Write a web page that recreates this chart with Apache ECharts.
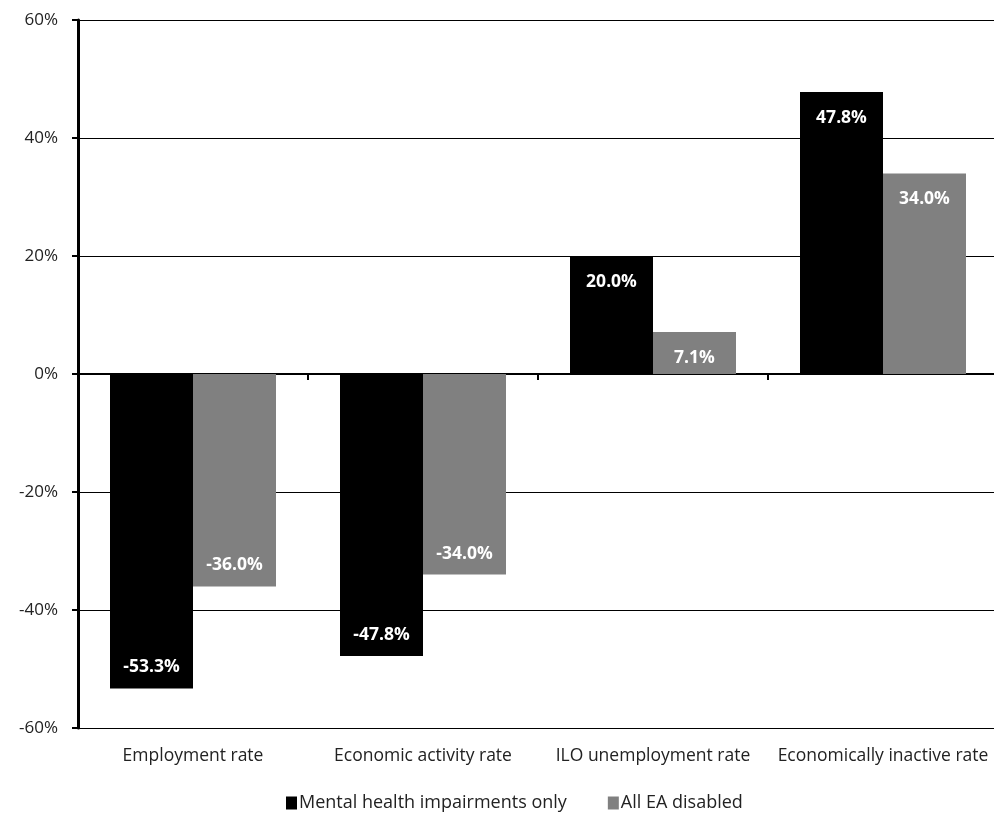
<!DOCTYPE html>
<html>
<head>
<meta charset="utf-8">
<title>Employment measures</title>
<script src="https://cdn.jsdelivr.net/npm/echarts@6/dist/echarts.min.js"></script>
<style>
  html, body { margin: 0; padding: 0; background: #fff; overflow: hidden; }
  /* plot area runs a few pixels past the right edge of the window */
  #chart { width: 1000px; height: 814px; }
</style>
</head>
<body>
<div id="chart"></div>
<script>
// Categories and values (percent)
const categories = ['Employment rate', 'Economic activity rate', 'ILO unemployment rate', 'Economically inactive rate'];
const mentalHealth = [-53.3, -47.8, 20.0, 47.8];
const allEADisabled = [-36.0, -34.0, 7.1, 34.0];
const seriesNames = ['Mental health impairments only', 'All EA disabled'];
const yTicks = { min: -60, max: 60, interval: 20 };

const FONT = '"Open Sans", "Noto Sans", sans-serif';

// Value labels sit inside the bar, next to its outer end
function barData(values) {
  return values.map(v => ({
    value: v,
    label: v >= 0
      ? { position: 'insideTop', distance: 17 }
      : { position: 'insideBottom', distance: 12 }
  }));
}

const barLabel = {
  show: true,
  color: '#fff',
  fontFamily: FONT,
  fontSize: 17.5,
  fontWeight: 'bold',
  formatter: p => p.value.toFixed(1) + '%'
};

const chart = echarts.init(document.getElementById('chart'), null, { renderer: 'canvas' });
chart.setOption({
  animation: false,
  backgroundColor: '#fff',
  grid: { left: 78, top: 20, width: 920, height: 708, containLabel: false },
  legend: {
    top: 789,
    left: 286,
    padding: [5, 0, 5, 0],
    itemWidth: 11,
    itemHeight: 13,
    itemGap: 41,
    icon: 'rect',
    textStyle: { fontFamily: FONT, fontSize: 18, color: '#222', padding: [0, 0, 0, -3] },
    data: seriesNames
  },
  xAxis: [
    {
      type: 'category',
      data: categories,
      axisLine: { onZero: true, lineStyle: { color: '#000', width: 2 } },
      axisTick: { show: true, length: 6, lineStyle: { color: '#000', width: 2 } },
      axisLabel: { show: false },
      splitLine: { show: false }
    },
    {
      type: 'category',
      data: categories,
      position: 'bottom',
      axisLine: { show: false, onZero: false },
      axisTick: { show: false },
      axisLabel: { show: true, interval: 0, margin: 19, fontFamily: FONT, fontSize: 17.5, color: '#222' },
      splitLine: { show: false }
    }
  ],
  yAxis: {
    type: 'value',
    min: yTicks.min,
    max: yTicks.max,
    interval: yTicks.interval,
    axisLine: { show: true, lineStyle: { color: '#000', width: 3 } },
    axisTick: { show: true, length: 6, lineStyle: { color: '#000', width: 2 } },
    axisLabel: { margin: 20, fontFamily: FONT, fontSize: 17, color: '#222', formatter: v => v + '%' },
    splitLine: { show: true, lineStyle: { color: '#000', width: 1 } }
  },
  series: [
    {
      name: seriesNames[0],
      type: 'bar',
      xAxisIndex: 0,
      data: barData(mentalHealth),
      barWidth: 83,
      barGap: '0%',
      itemStyle: { color: '#000' },
      label: barLabel
    },
    {
      name: seriesNames[1],
      type: 'bar',
      xAxisIndex: 0,
      data: barData(allEADisabled),
      barWidth: 83,
      barGap: '0%',
      itemStyle: { color: '#808080' },
      label: barLabel
    }
  ]
});
</script>
</body>
</html>
